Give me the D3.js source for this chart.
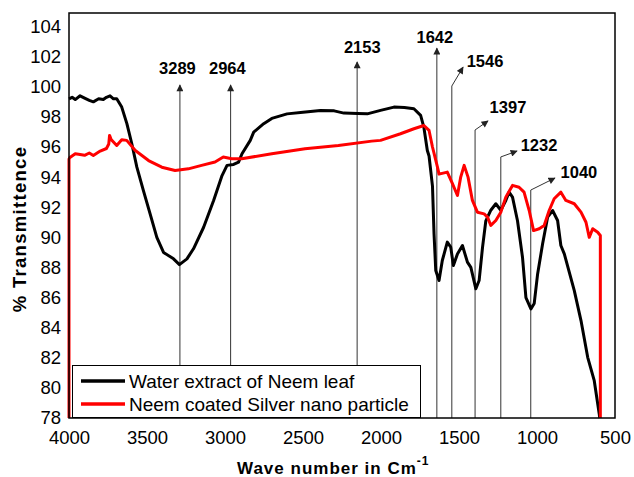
<!DOCTYPE html>
<html><head><meta charset="utf-8">
<script src="https://cdn.jsdelivr.net/npm/d3@7"></script>
<style>
body{margin:0;background:#fff;}
text{font-family:"Liberation Sans",Arial,sans-serif;}
</style></head>
<body><svg id="c" width="634" height="477"></svg>
<script>
// ---- data ----
const seriesNames = ["Water extract of Neem leaf", "Neem coated Silver nano particle"];
const seriesColors = ["#000000", "#ff0000"];
const waterWn = [4000,3980,3960,3929,3900,3870,3844,3810,3780,3760,3737,3715,3694,3662,3629,3597,3565,3523,3480,3437,3394,3330,3292,3244,3202,3137,3073,3019,2987,2945,2913,2891,2838,2816,2752,2700,2602,2500,2388,2300,2238,2150,2088,2003,1917,1850,1789,1746,1725,1703,1692,1670,1660,1649,1628,1607,1575,1553,1536,1510,1478,1446,1424,1392,1371,1349,1328,1296,1264,1232,1200,1179,1157,1125,1093,1071,1039,1018,996,964,932,900,868,847,825,761,718,675,633,601,598];
const waterT  = [99.2,99.3,99.15,99.4,99.25,99.1,99.0,99.2,99.15,99.3,99.4,99.2,99.2,98.65,97.55,96.2,94.66,93.1,91.56,90.0,89.0,88.57,88.19,88.57,89.24,90.67,92.45,94.1,94.78,94.84,95.0,95.55,96.44,96.99,97.55,97.9,98.2,98.3,98.43,98.4,98.25,98.22,98.2,98.43,98.65,98.62,98.54,98.1,97.3,95.77,95.4,93.4,90.23,87.8,87.13,88.46,89.68,89.35,88.13,88.9,89.46,88.35,88.0,86.58,87.13,89.35,91.1,91.8,92.23,91.8,92.45,93.0,92.67,91.1,88.68,86.0,85.25,85.6,87.57,89.57,91.34,91.78,91.12,89.46,88.9,86.46,84.47,82.03,80.48,78.27,78.0];
const silverWn = [4000,4000,3994,3960,3929,3900,3870,3844,3800,3760,3745,3740,3730,3715,3694,3662,3630,3575,3490,3405,3320,3235,3150,3064,3011,2957,2893,2700,2487,2273,2060,2003,1875,1789,1725,1692,1670,1638,1628,1575,1542,1510,1489,1467,1442,1414,1382,1339,1317,1296,1264,1232,1200,1157,1115,1083,1050,1022,986,954,922,890,847,815,761,718,686,665,643,611,594,594];
const silverT  = [78,95.2,95.3,95.55,95.5,95.45,95.6,95.44,95.73,95.9,96.2,96.77,96.5,96.33,96.1,96.48,96.44,95.77,95.1,94.66,94.44,94.55,94.78,95.0,95.33,95.22,95.22,95.55,95.88,96.1,96.39,96.44,96.88,97.21,97.43,97.1,96.0,94.66,94.2,94.33,93.56,92.78,94.0,94.78,94.0,92.45,91.67,91.56,91.34,90.79,91.12,91.67,92.67,93.45,93.33,93.0,91.78,90.45,90.57,90.79,91.78,92.56,93.0,92.45,92.23,91.67,91.0,90.0,90.57,90.34,90.12,78];
const xTicks = [4000,3500,3000,2500,2000,1500,1000,500];
const yTicks = [78,80,82,84,86,88,90,92,94,96,98,100,102,104];
const peaks = [3289,2964,2153,1642,1546,1397,1232,1040];
const peakLabels = ["3289","2964","2153","1642","1546","1397","1232","1040"];

// ---- annotation layout (data units) ----
const annLayout = [
  {elbow:100.12, tip:null, lab:[3305,101.25]},
  {elbow:100.12, tip:null, lab:[2985,101.25]},
  {elbow:101.65, tip:null, lab:[2120,102.62]},
  {elbow:102.57, tip:null, lab:[1655,103.3]},
  {elbow:100.05, tip:[1474,101.3], lab:[1333,101.72]},
  {elbow:97.13, tip:[1314,97.73], lab:[1186,98.68]},
  {elbow:95.34, tip:[1128,95.73], lab:[987,96.13]},
  {elbow:93.14, tip:[885,93.94], lab:[731,94.34]}
];

const svg = d3.select("#c");
const L=69, R=615, T=13, B=418;
const x = d3.scaleLinear().domain([4000,500]).range([L,R]);
const y = d3.scaleLinear().domain([78,104.9]).range([B,T]);

svg.append("defs").append("marker").attr("id","arr")
  .attr("viewBox","0 0 10 10").attr("refX",9).attr("refY",5)
  .attr("markerWidth",8).attr("markerHeight",7).attr("markerUnits","userSpaceOnUse")
  .attr("orient","auto")
  .append("path").attr("d","M0,0L10,5L0,10z").attr("fill","#222");

// axes (labels only)
const xAxis = d3.axisBottom(x).tickValues(xTicks).tickFormat(d3.format("d")).tickSize(0).tickPadding(13);
const gx = svg.append("g").attr("transform",`translate(0,${B})`).call(xAxis);
gx.select(".domain").remove();
gx.selectAll("text").attr("font-size","18.5px").attr("fill","#000")
  .style("font-family","'Liberation Sans',Arial,sans-serif");
const yAxis = d3.axisLeft(y).tickValues(yTicks).tickFormat(d3.format("d")).tickSize(0).tickPadding(8);
const gy = svg.append("g").attr("transform",`translate(${L},0)`).call(yAxis);
gy.select(".domain").remove();
gy.selectAll("text").attr("font-size","18.5px").attr("fill","#000")
  .style("font-family","'Liberation Sans',Arial,sans-serif");

// annotation lines
const ann = svg.append("g");
peaks.forEach((p,i)=>{
  const a = annLayout[i];
  if(a.tip===null){
    ann.append("line").attr("x1",x(p)).attr("x2",x(p)).attr("y1",y(78)).attr("y2",y(a.elbow))
      .attr("stroke","#333").attr("stroke-width",1).attr("marker-end","url(#arr)");
  } else {
    ann.append("line").attr("x1",x(p)).attr("x2",x(p)).attr("y1",y(78)).attr("y2",y(a.elbow))
      .attr("stroke","#333").attr("stroke-width",1);
    ann.append("line").attr("x1",x(p)).attr("x2",x(a.tip[0])).attr("y1",y(a.elbow)).attr("y2",y(a.tip[1]))
      .attr("stroke","#333").attr("stroke-width",1).attr("marker-end","url(#arr)");
  }
  ann.append("text").attr("x",x(a.lab[0])).attr("y",y(a.lab[1])).attr("dy","0.36em")
    .attr("text-anchor","middle").attr("font-size","16.5px").attr("font-weight","bold")
    .text(peakLabels[i]);
});

// series
const line = d3.line().x(d=>x(d[0])).y(d=>y(d[1]));
const waterData = waterWn.map((w,i)=>[w,waterT[i]]);
const silverData = silverWn.map((w,i)=>[w,silverT[i]]);
svg.append("path").datum(waterData).attr("d",line).attr("fill","none")
  .attr("stroke",seriesColors[0]).attr("stroke-width",3).attr("stroke-linejoin","round");
svg.append("path").datum(silverData).attr("d",line).attr("fill","none")
  .attr("stroke",seriesColors[1]).attr("stroke-width",3).attr("stroke-linejoin","round");

// frame
svg.append("rect").attr("x",L).attr("y",T).attr("width",R-L).attr("height",B-T)
  .attr("fill","none").attr("stroke","#000").attr("stroke-width",1.5);

// legend
const lg = svg.append("g");
lg.append("rect").attr("x",72.5).attr("y",365.5).attr("width",348).attr("height",52)
  .attr("fill","#fff").attr("stroke","#000").attr("stroke-width",1);
seriesNames.forEach((n,i)=>{
  const yy = 381 + i*23;
  lg.append("line").attr("x1",81).attr("x2",125).attr("y1",yy).attr("y2",yy)
    .attr("stroke",seriesColors[i]).attr("stroke-width",3.5);
  lg.append("text").attr("x",129).attr("y",yy).attr("dy","0.36em")
    .attr("font-size","19px").text(n);
});

// axis titles
const xt = svg.append("text").attr("x",237).attr("y",474).attr("font-size","17px")
  .attr("font-weight","bold").attr("letter-spacing","1px");
xt.append("tspan").text("Wave number in Cm");
xt.append("tspan").attr("dy",-9).attr("font-size","12px").text("-1");
svg.append("text").attr("transform","translate(26,229) rotate(-90)")
  .attr("text-anchor","middle").attr("font-size","18.5px").attr("font-weight","bold")
  .attr("letter-spacing","1.3px").text("% Transmittence");
</script></body></html>
